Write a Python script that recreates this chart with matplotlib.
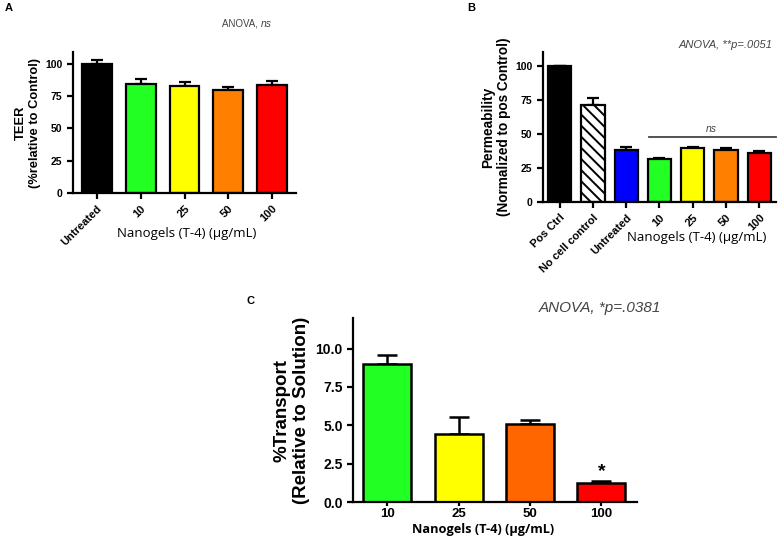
import numpy as np
import matplotlib
matplotlib.use("Agg")
import matplotlib.pyplot as plt

plt.rcParams['font.family'] = ['Liberation Sans', 'DejaVu Sans']
plt.rcParams['hatch.linewidth'] = 1.4

# panel A - TEER
a_labels = ['Untreated', '10', '25', '50', '100']
a_values = [100, 84.5, 83, 79.5, 83.5]
a_errors = [2.5, 3.5, 3, 2.5, 3]
a_colors = ['#000000', '#22ff22', '#ffff00', '#ff8000', '#ff0000']

# panel B - permeability
b_labels = ['Pos Ctrl', 'No cell control', 'Untreated', '10', '25', '50', '100']
b_values = [100, 71, 38, 31.5, 39.7, 38.5, 36.3]
b_errors = [0, 5, 2, 0.8, 0.8, 1.3, 1.0]
b_colors = ['#000000', '#ffffff', '#0000ff', '#22ff22', '#ffff00', '#ff8000', '#ff0000']

# panel C - transport
c_labels = ['10', '25', '50', '100']
c_values = [8.97, 4.42, 5.1, 1.22]
c_errors = [0.6, 1.15, 0.26, 0.14]
c_colors = ['#22ff22', '#ffff00', '#ff6600', '#ff0000']

W, H = 784, 539
fig = plt.figure(figsize=(W / 100, H / 100), dpi=100)


def px_axes(x0, y0, x1, y1):
    # pixel box (top-left origin) -> figure fraction
    return fig.add_axes([x0 / W, 1 - y1 / H, (x1 - x0) / W, (y1 - y0) / H])


def ftext(x, y, s, **kw):
    fig.text(x / W, 1 - y / H, s, **kw)


def style(ax, lw=1.6):
    for side in ['top', 'right']:
        ax.spines[side].set_visible(False)
    for side in ['left', 'bottom']:
        ax.spines[side].set_linewidth(lw)
    ax.tick_params(width=lw, length=4, direction='out')


def draw_bars(ax, values, errors, colors, width, capsize, lw=1.6):
    x = np.arange(len(values))
    bars = ax.bar(x, values, width=width, color=colors, edgecolor='black',
                  linewidth=lw, zorder=2)
    ax.errorbar(x, values, yerr=[np.zeros(len(errors)), errors], fmt='none',
                ecolor='black', elinewidth=lw, capsize=capsize, capthick=lw, zorder=1)
    return bars


# ---- A ----
axA = px_axes(73, 52, 296, 193)
draw_bars(axA, a_values, a_errors, a_colors, 0.68, 4.5)
style(axA)
axA.set_xlim(-0.55, 4.55)
axA.set_ylim(0, 109)
axA.set_yticks([0, 25, 50, 75, 100])
axA.set_xticks(range(len(a_labels)))
axA.set_xticklabels(a_labels, rotation=45, ha='right', rotation_mode='anchor',
                    fontsize=8, fontweight='bold')
for t in axA.get_yticklabels():
    t.set_fontsize(7.5)
    t.set_fontweight('bold')
axA.set_ylabel('TEER\n(%relative to Control)', fontsize=9.3, fontweight='bold',
               linespacing=1.2, labelpad=3)
ftext(187, 233, 'Nanogels (T-4) (\u00b5g/mL)', fontsize=9.5, family='Open Sans',
      ha='center', va='center')
ftext(261, 24, 'ANOVA, ', fontsize=7, color='#444444', ha='right', va='center')
ftext(261, 24, 'ns', fontsize=7.5, color='#444444', ha='left', va='center', style='italic')
ftext(5, 8, 'A', fontsize=8, fontweight='bold', va='center')

# ---- B ----
axB = px_axes(543, 52, 776, 202)
bars = draw_bars(axB, b_values, b_errors, b_colors, 0.7, 4.5)
bars[1].set_hatch('\\\\\\')
style(axB)
axB.set_xlim(-0.5, 6.5)
axB.set_ylim(0, 110)
axB.set_yticks([0, 25, 50, 75, 100])
axB.set_xticks(range(len(b_labels)))
axB.set_xticklabels(b_labels, rotation=45, ha='right', rotation_mode='anchor',
                    fontsize=8, fontweight='bold')
for t in axB.get_yticklabels():
    t.set_fontsize(7.5)
    t.set_fontweight('bold')
axB.set_ylabel('Permeability\n(Normalized to pos Control)', fontsize=9.8,
               fontweight='bold', linespacing=1.2, labelpad=3)
axB.plot([2.68, 6.5], [47.8, 47.8], color='#444444', lw=1.3, clip_on=False)
axB.text(4.55, 49.5, 'ns', fontsize=7.5, style='italic', color='#444444',
         ha='center', va='bottom')
ftext(697, 237, 'Nanogels (T-4) (\u00b5g/mL)', fontsize=9.5, family='Open Sans',
      ha='center', va='center')
ftext(773, 45, 'ANOVA, **p=.0051', fontsize=8, style='italic', color='#444444',
      ha='right', va='center')
ftext(467, 8, 'B', fontsize=8, fontweight='bold', va='center')

# ---- C ----
axC = px_axes(353, 318, 637, 502)
draw_bars(axC, c_values, c_errors, c_colors, 0.67, 7, lw=1.8)
style(axC, lw=1.6)
axC.tick_params(axis='x', length=3, pad=1.5)
axC.set_xlim(-0.48, 3.5)
axC.set_ylim(0, 12)
axC.set_yticks([0, 2.5, 5, 7.5, 10])
axC.set_yticklabels(['0.0', '2.5', '5.0', '7.5', '10.0'], fontsize=10, fontweight='bold')
axC.set_xticks(range(len(c_labels)))
axC.set_xticklabels(c_labels, fontsize=9.5, fontweight='bold')
axC.set_ylabel('%Transport\n(Relative to Solution)', fontsize=13.5, fontweight='bold',
               linespacing=1.15, labelpad=4)
axC.text(3, 1.45, '*', fontsize=14, fontweight='bold', ha='center', va='bottom')
ftext(483, 529, 'Nanogels (T-4) (\u00b5g/mL)', fontsize=9.2, family='Open Sans',
      fontweight='bold', ha='center', va='center')
ftext(600, 308, 'ANOVA, *p=.0381', fontsize=11, style='italic', color='#444444',
      ha='center', va='center')
ftext(247, 301, 'C', fontsize=8, fontweight='bold', va='center')

fig.savefig('out.png', dpi=100)
